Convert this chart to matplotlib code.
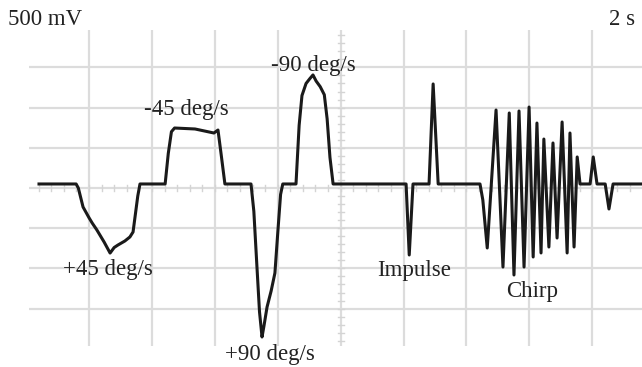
import matplotlib
matplotlib.use("Agg")
import matplotlib.pyplot as plt
import numpy as np

time_s = [0.41, 1.59, 1.66, 1.81, 2.00, 2.10, 2.25, 2.48, 2.67, 2.80, 2.92, 3.14, 3.30, 3.40, 3.55, 3.62,
          4.42, 4.52, 4.62, 4.72, 5.37, 5.97, 6.10, 6.20, 6.32,
          7.15, 7.24, 7.33, 7.42, 7.50, 7.56, 7.66, 7.79, 7.91, 8.00, 8.09, 8.16,
          8.58, 8.68, 8.77, 8.90, 9.02, 9.12, 9.22, 9.35, 9.48, 9.57, 9.66, 9.76,
          12.08, 12.18, 12.30, 12.81, 12.94, 13.10,
          14.43, 14.52, 14.66, 14.94, 15.16, 15.36, 15.51, 15.67, 15.83, 15.99, 16.12,
          16.24, 16.37, 16.46, 16.62, 16.75, 16.88, 17.04, 17.20, 17.29, 17.42,
          17.52, 17.61, 17.93, 18.03, 18.15, 18.41, 18.53, 18.66, 19.70]
volt_mv = [50, 50, 0, -236, -370, -435, -522, -672, -809, -740, -709, -659, -609, -547, -100, 50,
           50, 430, 700, 746, 734, 684, 721, 420, 50,
           50, -290, -920, -1540, -1853, -1720, -1480, -1280, -1057, -560, -80, 50,
           50, 780, 1150, 1300, 1360, 1406, 1330, 1260, 1160, 860, 380, 50,
           50, -833, 50, 50, 1294, 50,
           50, -150, -746, 970, -983, 933, -1082, 958, -983, 1007, -858,
           808, -808, 609, -734, 560, -622, 821, -808, 684, -734,
           386, 50, 50, 386, 50, 50, -261, 50, 50]

labels = ["-45 deg/s", "-90 deg/s", "+45 deg/s", "+90 deg/s", "Impulse", "Chirp"]
volts_per_div = "500 mV"
time_per_div = "2 s"

W, H = 642, 367
fig = plt.figure(figsize=(W / 100, H / 100), dpi=100)
ax_left, ax_right, ax_top, ax_bot = 29, 642, 30, 346
ax = fig.add_axes([ax_left / W, 1 - ax_bot / H, (ax_right - ax_left) / W, (ax_bot - ax_top) / H])
ax.set_xlim(0.092, 19.58)
ax.set_ylim(-1965, 1965)
for s in ax.spines.values():
    s.set_visible(False)
ax.set_xticks([])
ax.set_yticks([])

grid_c = "#dcdcdc"
for t in np.arange(2, 19, 2):
    ax.axvline(t, color=grid_c, lw=1.6, zorder=1)
for v in np.arange(-1500, 1501, 500):
    ax.axhline(v, color=grid_c, lw=1.6, zorder=1)

# minor ticks on center axes
tick_c = "#d4d4d4"
for t in np.arange(0.4, 19.6, 0.4):
    ax.plot([t, t], [-40, 40], color=tick_c, lw=1, zorder=1)
for v in np.arange(-1900, 1901, 100):
    ax.plot([9.9, 10.1], [v, v], color=tick_c, lw=1, zorder=1)

ax.plot(time_s, volt_mv, color="#1a1a1a", lw=2.2, solid_joinstyle="round", zorder=3, clip_on=False)

font = dict(family="Liberation Serif", fontsize=16.5, color="#222222")

def ftext(x, y, s, ha="center"):
    fig.text(x / W, 1 - y / H, s, ha=ha, va="baseline", **font)

ftext(8, 25, volts_per_div, ha="left")
ftext(635, 25, time_per_div, ha="right")
ftext(186, 115, labels[0])
ftext(313, 71, labels[1])
ftext(108, 275, labels[2])
ftext(270, 360, labels[3])
ftext(414, 276, labels[4])
ftext(532, 297, labels[5])

fig.savefig("out.png", dpi=100)
